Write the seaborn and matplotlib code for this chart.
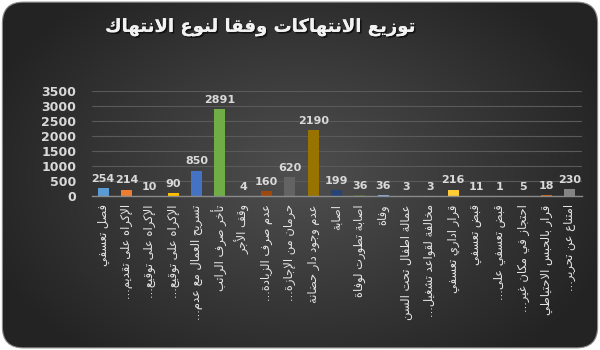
import numpy as np
import pandas as pd
import matplotlib
matplotlib.use("Agg")
import matplotlib.pyplot as plt
from matplotlib.patches import FancyBboxPatch
import matplotlib.patheffects as pe
import seaborn as sns

title = "توزيع الانتهاكات وفقا لنوع الانتهاك"
categories = [
    "فصل تعسفي",
    "الإكراه على تقديم...",
    "الإكراه على توقيع...",
    "الإكراه على توقيع...",
    "تسريح العمال مع عدم...",
    "تأخر صرف الراتب",
    "وقف الأجر",
    "عدم صرف الزيادة...",
    "حرمان من الإجازة...",
    "عدم وجود دار حضانة",
    "اصابة",
    "اصابة تطورت لوفاة",
    "وفاة",
    "عمالة اطفال تحت السن",
    "مخالفة لقواعد تشغيل...",
    "قرار اداري تعسفي",
    "قبض تعسفي",
    "قبض تعسفي على...",
    "احتجاز في مكان غير...",
    "قرار بالحبس الاحتياطي",
    "امتناع عن تحرير...",
]
values = [254, 214, 10, 90, 850, 2891, 4, 160, 620, 2190, 199, 36, 36, 3, 3,
          216, 11, 1, 5, 18, 230]
colors = ["#5B9BD5", "#ED7D31", "#A5A5A5", "#FFC000", "#4472C4", "#70AD47",
          "#255E91", "#9E480E", "#636363", "#997300", "#264478", "#43682B",
          "#7CAFDD", "#F1975A", "#B7B7B7", "#FFCD33", "#698ED0", "#8CC168",
          "#327DC2", "#D26012", "#848484"]
yticks = [0, 500, 1000, 1500, 2000, 2500, 3000, 3500]

# ---- minimal Arabic shaping (presentation forms) + visual reordering ----
FORMS = {  # isolated, final, initial, medial
    "\u0621": ("\uFE80", None, None, None),
    "\u0622": ("\uFE81", "\uFE82", None, None),
    "\u0623": ("\uFE83", "\uFE84", None, None),
    "\u0624": ("\uFE85", "\uFE86", None, None),
    "\u0625": ("\uFE87", "\uFE88", None, None),
    "\u0626": ("\uFE89", "\uFE8A", "\uFE8B", "\uFE8C"),
    "\u0627": ("\uFE8D", "\uFE8E", None, None),
    "\u0628": ("\uFE8F", "\uFE90", "\uFE91", "\uFE92"),
    "\u0629": ("\uFE93", "\uFE94", None, None),
    "\u062A": ("\uFE95", "\uFE96", "\uFE97", "\uFE98"),
    "\u062B": ("\uFE99", "\uFE9A", "\uFE9B", "\uFE9C"),
    "\u062C": ("\uFE9D", "\uFE9E", "\uFE9F", "\uFEA0"),
    "\u062D": ("\uFEA1", "\uFEA2", "\uFEA3", "\uFEA4"),
    "\u062E": ("\uFEA5", "\uFEA6", "\uFEA7", "\uFEA8"),
    "\u062F": ("\uFEA9", "\uFEAA", None, None),
    "\u0630": ("\uFEAB", "\uFEAC", None, None),
    "\u0631": ("\uFEAD", "\uFEAE", None, None),
    "\u0632": ("\uFEAF", "\uFEB0", None, None),
    "\u0633": ("\uFEB1", "\uFEB2", "\uFEB3", "\uFEB4"),
    "\u0634": ("\uFEB5", "\uFEB6", "\uFEB7", "\uFEB8"),
    "\u0635": ("\uFEB9", "\uFEBA", "\uFEBB", "\uFEBC"),
    "\u0636": ("\uFEBD", "\uFEBE", "\uFEBF", "\uFEC0"),
    "\u0637": ("\uFEC1", "\uFEC2", "\uFEC3", "\uFEC4"),
    "\u0638": ("\uFEC5", "\uFEC6", "\uFEC7", "\uFEC8"),
    "\u0639": ("\uFEC9", "\uFECA", "\uFECB", "\uFECC"),
    "\u063A": ("\uFECD", "\uFECE", "\uFECF", "\uFED0"),
    "\u0641": ("\uFED1", "\uFED2", "\uFED3", "\uFED4"),
    "\u0642": ("\uFED5", "\uFED6", "\uFED7", "\uFED8"),
    "\u0643": ("\uFED9", "\uFEDA", "\uFEDB", "\uFEDC"),
    "\u0644": ("\uFEDD", "\uFEDE", "\uFEDF", "\uFEE0"),
    "\u0645": ("\uFEE1", "\uFEE2", "\uFEE3", "\uFEE4"),
    "\u0646": ("\uFEE5", "\uFEE6", "\uFEE7", "\uFEE8"),
    "\u0647": ("\uFEE9", "\uFEEA", "\uFEEB", "\uFEEC"),
    "\u0648": ("\uFEED", "\uFEEE", None, None),
    "\u0649": ("\uFEEF", "\uFEF0", None, None),
    "\u064A": ("\uFEF1", "\uFEF2", "\uFEF3", "\uFEF4"),
}
LAMALEF = {"\u0622": ("\uFEF5", "\uFEF6"), "\u0623": ("\uFEF7", "\uFEF8"),
           "\u0625": ("\uFEF9", "\uFEFA"), "\u0627": ("\uFEFB", "\uFEFC")}


def joins_next(ch):
    f = FORMS.get(ch)
    return f is not None and f[2] is not None


def joins_prev(ch):
    f = FORMS.get(ch)
    return f is not None and f[1] is not None


def shape(text):
    out = []
    i = 0
    n = len(text)
    while i < n:
        ch = text[i]
        if ch not in FORMS:
            out.append(ch)
            i += 1
            continue
        prev = text[i - 1] if i > 0 else ""
        link_prev = joins_next(prev) and joins_prev(ch)
        if ch == "\u0644" and i + 1 < n and text[i + 1] in LAMALEF:
            iso, fin = LAMALEF[text[i + 1]]
            out.append(fin if link_prev else iso)
            i += 2
            continue
        nxt = text[i + 1] if i + 1 < n else ""
        link_next = joins_next(ch) and joins_prev(nxt)
        iso, fin, ini, med = FORMS[ch]
        if link_prev and link_next:
            out.append(med)
        elif link_prev:
            out.append(fin)
        elif link_next:
            out.append(ini)
        else:
            out.append(iso)
        i += 1
    return "".join(out)[::-1]


# ---- figure ----
sns.set_theme(style="dark")
plt.rcParams["font.family"] = ["DejaVu Sans"]

fig = plt.figure(figsize=(6, 3.5), dpi=100, facecolor="white")

# background with radial gradient and rounded corners
bg = fig.add_axes([0, 0, 1, 1], zorder=0)
bg.set_axis_off()
yy, xx = np.mgrid[0:350, 0:600]
r = np.sqrt(((xx - 300) / 330.0) ** 2 + ((yy - 175) / 230.0) ** 2)
shade = np.clip(0.31 - 0.17 * r, 0.14, 0.31)
img = np.dstack([shade, shade, shade])
im = bg.imshow(img, extent=[0, 1, 0, 1], aspect="auto", origin="upper")
box = FancyBboxPatch((0.004, 0.006), 0.992, 0.988,
                     boxstyle="round,pad=0,rounding_size=0.035",
                     mutation_aspect=600 / 350, transform=bg.transAxes,
                     facecolor="none", edgecolor="#8c8c8c", linewidth=0.8)
bg.add_patch(box)
im.set_clip_path(box)
bg.set_xlim(0, 1)
bg.set_ylim(0, 1)

ax = fig.add_axes([91.5 / 600, (350 - 196) / 350, 490 / 600, 105 / 350], zorder=1)
ax.set_facecolor("none")

ids = [f"c{i}" for i in range(len(values))]
df = pd.DataFrame({"cat": ids, "val": values})
sns.barplot(data=df, x="cat", y="val", hue="cat", palette=colors,
            legend=False, width=0.48, ax=ax, saturation=1,
            edgecolor="none", linewidth=0)

ax.set_ylim(0, 3500)
ax.set_xlim(-0.5, len(values) - 0.5)
ax.set_yticks(yticks)
ax.set_yticklabels([str(t) for t in yticks], color="#D9D9D9",
                   fontsize=9, fontweight="bold")
ax.yaxis.grid(True, color="#5a5a5a", linewidth=0.8)
ax.set_axisbelow(True)
ax.xaxis.grid(False)
ax.set_xlabel("")
ax.set_ylabel("")
for s in ["top", "right", "left"]:
    ax.spines[s].set_visible(False)
ax.spines["bottom"].set_color("#8a8a8a")
ax.spines["bottom"].set_linewidth(1.0)
ax.tick_params(axis="y", length=0, pad=11)

ax.set_xticks(range(len(values)))
ax.set_xticklabels([shape(c) for c in categories], rotation=90,
                   color="#E6E6E6", fontsize=8.3, va="top", ha="center")
ax.tick_params(axis="x", length=0, pad=6)

for i, v in enumerate(values):
    ax.annotate(str(v), (i, v), xytext=(0, 3), textcoords="offset points",
                ha="center", va="bottom", color="#D9D9D9",
                fontsize=8, fontweight="bold")

fig.text(260 / 600, 1 - 27 / 350, shape(title), ha="center", va="center",
         color="#F2F2F2", fontsize=13, fontweight="bold",
         path_effects=[pe.withSimplePatchShadow(offset=(1.2, -1.2),
                                                shadow_rgbFace="black",
                                                alpha=0.6), pe.Normal()])

fig.savefig("out.png", dpi=100, facecolor="white")
